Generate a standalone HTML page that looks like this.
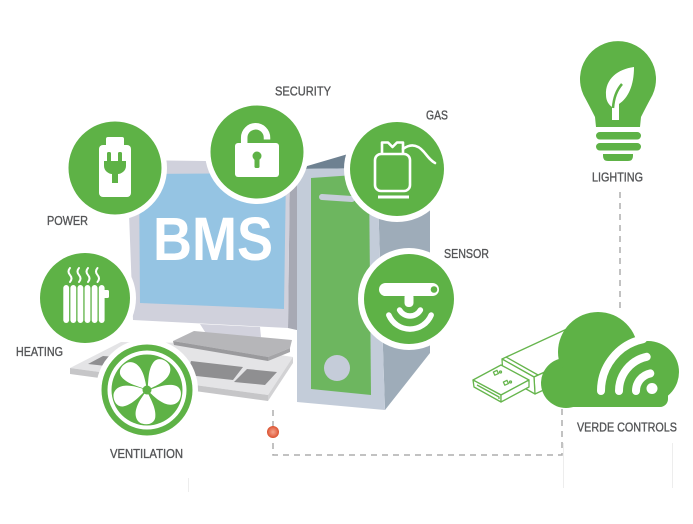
<!DOCTYPE html>
<html><head><meta charset="utf-8"><style>
html,body{margin:0;padding:0;background:#fff;}
svg{display:block;}
text{font-family:"Liberation Sans",sans-serif;}
</style></head><body>
<svg width="693" height="524" viewBox="0 0 693 524" xmlns="http://www.w3.org/2000/svg">
<defs>
<radialGradient id="rd" cx="50%" cy="50%" r="50%">
<stop offset="0" stop-color="#f4a58c"/><stop offset="0.6" stop-color="#e8755a"/><stop offset="1" stop-color="#d9522f"/>
</radialGradient>
</defs>

<!-- faint lines -->
<g stroke="#ededed" stroke-width="1">
<line x1="188.5" y1="478" x2="188.5" y2="492"/>
<line x1="563.5" y1="443" x2="563.5" y2="488"/>
<line x1="672.5" y1="443" x2="672.5" y2="488"/>
</g>

<!-- dashed connectors -->
<g stroke="#adadad" stroke-width="1.5" fill="none" stroke-dasharray="6 5">
<path d="M273 410 V455 H562 V408"/>
<path d="M620 192 V312"/>
</g>
<circle cx="273" cy="432" r="6" fill="url(#rd)"/>

<!-- keyboard -->
<polygon points="70,368 121,342 200,343 293,357 268,395" fill="#e4e4e6"/>
<polygon points="70,368 268,395 268,401 70,374" fill="#c6c6c8"/>
<polygon points="268,395 293,357 293,363 268,401" fill="#d2d2d4"/>
<polygon points="88,364 103,356 130,358 115,367" fill="#8f8f91"/>
<polygon points="191,361 243,367 233,380 187,375" fill="#8f8f91"/>
<polygon points="247,369 277,372 265,385 234,382" fill="#8f8f91"/>

<!-- monitor neck & stand -->
<polygon points="200,324 260,327 261,337 207,335" fill="#d2d2dd"/>
<polygon points="173,341 194,331 292,340 290,348 268,357" fill="#b6b6b9"/>
<polygon points="173,341 268,357 268,361 174,345" fill="#9a9a9d"/>
<polygon points="268,357 290,348 290,352 268,361" fill="#a5a5a8"/>

<!-- monitor -->
<polygon points="290,162 301,158 301,331 288,328" fill="#a7a9b4"/>
<polygon points="127,160 290,162 288,328 133,320" fill="#d0d1dc"/>
<polygon points="139,174 286,173 284,309 140,303" fill="#95c4e3"/>
<text x="153" y="260" font-size="61" font-weight="bold" fill="#fff" textLength="120" lengthAdjust="spacingAndGlyphs">BMS</text>

<!-- tower -->
<polygon points="297,169 348,154 430,140 377,168" fill="#6e8191"/>
<polygon points="377,168 430,140 430,353 385,410" fill="#9eacb9"/>
<polygon points="297,169 377,168 385,410 297,402" fill="#c3ccd9"/>
<polygon points="311,178 369,174 371,395 311,389" fill="#6db65f"/>
<line x1="322" y1="197" x2="352" y2="199" stroke="#c6cdd9" stroke-width="6" stroke-linecap="round"/>
<circle cx="337" cy="368" r="13" fill="#c5ccd9"/>

<!-- circles -->
<g>
<circle cx="115" cy="168" r="52" fill="#fff"/><circle cx="115" cy="168" r="46.5" fill="#5eb246"/>
<circle cx="257" cy="152" r="52" fill="#fff"/><circle cx="257" cy="152" r="46.5" fill="#5eb246"/>
<circle cx="397" cy="169" r="53" fill="#fff"/><circle cx="397" cy="169" r="47" fill="#5eb246"/>
<circle cx="409" cy="299" r="51" fill="#fff"/><circle cx="409" cy="299" r="45" fill="#5eb246"/>
<circle cx="85" cy="298" r="51" fill="#fff"/><circle cx="85" cy="298" r="45" fill="#5eb246"/>
<circle cx="147" cy="390" r="51" fill="#fff"/><circle cx="147" cy="390" r="45.5" fill="#5eb246"/>
<circle cx="147" cy="390" r="39.5" fill="#fff"/><circle cx="147" cy="390" r="35.5" fill="#5eb246"/>
</g>

<!-- power icon -->
<rect x="106" y="137" width="18" height="10" rx="2" fill="#fff"/>
<rect x="99" y="145" width="32" height="52" rx="4" fill="#fff"/>
<rect x="107" y="152" width="4" height="11" rx="1.5" fill="#5eb246"/>
<rect x="118" y="152" width="4" height="11" rx="1.5" fill="#5eb246"/>
<path d="M104,161 L126,161 L126,166 C126,171 121,174 118,174 L118,183 L112,183 L112,174 C109,174 104,171 104,166 Z" fill="#5eb246"/>

<!-- security icon -->
<path d="M244.2,147 L244.2,137.7 A11.4,11.4 0 0 1 267,137.7 L267,139.5" fill="none" stroke="#fff" stroke-width="6.5"/>
<rect x="235" y="143" width="44" height="34" rx="3" fill="#fff"/>
<circle cx="257" cy="156" r="4.5" fill="#5eb246"/>
<rect x="254.5" y="156" width="5" height="12" rx="1.2" fill="#5eb246"/>

<!-- gas icon -->
<g fill="none" stroke="#fff" stroke-width="2.6" stroke-linejoin="round">
<rect x="375" y="154" width="35" height="37" rx="6"/>
<path d="M382,154 V142.5 H388 L392.5,147 L397,142.5 H403 V154"/>
<path d="M403,149 C411,143 418,145 424,152 C428,157 431,161 435,163" stroke-linecap="round"/>
</g>
<rect x="378" y="195.5" width="31" height="3" fill="#fff"/>

<!-- sensor icon -->
<rect x="379" y="283" width="60" height="13" rx="6.5" fill="#fff"/>
<circle cx="434" cy="289.5" r="3.3" fill="#5eb246"/>
<rect x="404.5" y="293" width="9" height="14" rx="4" fill="#fff"/>
<path d="M399.6,310 A12,12 0 0 0 420.4,310" stroke="#fff" stroke-width="5.5" fill="none" stroke-linecap="round"/>
<path d="M388.8,315 A23,23 0 0 0 431.2,315" stroke="#fff" stroke-width="5.5" fill="none" stroke-linecap="round"/>

<!-- heating icon -->
<g fill="#fff">
<rect x="63.3" y="285" width="5.8" height="38" rx="2.9"/>
<rect x="70.4" y="285" width="5.8" height="38" rx="2.9"/>
<rect x="77.5" y="285" width="5.8" height="38" rx="2.9"/>
<rect x="84.6" y="285" width="5.8" height="38" rx="2.9"/>
<rect x="91.7" y="285" width="5.8" height="38" rx="2.9"/>
<rect x="98.8" y="285" width="5.8" height="38" rx="2.9"/>
<rect x="103" y="290" width="6" height="8" rx="1.5"/>
</g>
<g fill="none" stroke="#fff" stroke-width="2" stroke-linecap="round">
<path d="M70,268 q-3,3.5 0,7 t0,7"/>
<path d="M79,268 q-3,3.5 0,7 t0,7"/>
<path d="M88,268 q-3,3.5 0,7 t0,7"/>
<path d="M97.5,268 q-3,3.5 0,7 t0,7"/>
</g>

<!-- fan blades -->
<g fill="#fff" transform="translate(147,390)">
<path transform="rotate(-128)" d="M4,-2 C10,-6 18,-12 26,-12 C32,-12 35,-6 34,0 C33,6 27,9 20,8 C13,7 8,4 4,2 Z"/>
<path transform="rotate(-52)" d="M4,-2 C10,-6 18,-12 26,-12 C32,-12 35,-6 34,0 C33,6 27,9 20,8 C13,7 8,4 4,2 Z"/>
<path transform="rotate(16)" d="M4,-2 C10,-6 18,-12 26,-12 C32,-12 35,-6 34,0 C33,6 27,9 20,8 C13,7 8,4 4,2 Z"/>
<path transform="rotate(98)" d="M4,-2 C10,-6 18,-12 26,-12 C32,-12 35,-6 34,0 C33,6 27,9 20,8 C13,7 8,4 4,2 Z"/>
<path transform="rotate(170)" d="M4,-2 C10,-6 18,-12 26,-12 C32,-12 35,-6 34,0 C33,6 27,9 20,8 C13,7 8,4 4,2 Z"/>
<circle cx="0" cy="0" r="4.5" fill="#5eb246"/>
</g>

<!-- USB stick -->
<g fill="#fff" stroke="#66b54d" stroke-width="1.3" stroke-linejoin="round">
<polygon points="502,359 582,322 614,340 534,377"/>
<polygon points="534,377 614,340 615,357 535,394"/>
<polygon points="502,359 534,377 535,394 503,376"/>
<line x1="506" y1="357" x2="538" y2="375"/>
<polygon points="473,380 501,365 529,380 501,395"/>
<polygon points="473,380 501,395 501,402 474,387"/>
<polygon points="501,395 529,380 529,387 501,402"/>
<polyline points="477,385 499,397 499,399" fill="none"/>
<rect x="494" y="371" width="4" height="3.5" transform="rotate(-25 496 373)"/>
<circle cx="500.5" cy="372" r="1"/>
<rect x="504" y="381" width="4" height="3.5" transform="rotate(-25 506 383)"/>
<circle cx="510.5" cy="382" r="1"/>
</g>

<!-- cloud -->
<g fill="#5eb246">
<circle cx="598" cy="352" r="40"/>
<circle cx="566" cy="383" r="25"/>
<circle cx="648" cy="372" r="31"/>
<rect x="560" y="365" width="108" height="42" rx="8"/>
</g>
<g fill="none" stroke="#fff" stroke-width="8" stroke-linecap="round">
<path d="M601,391 A53,53 0 0 1 643,339.2"/>
<path d="M619,391 A35,35 0 0 1 646.7,356.8"/>
<path d="M636,391 A18,18 0 0 1 650.3,373.4"/>
</g>
<circle cx="652" cy="388.5" r="5.5" fill="#fff"/>

<!-- light bulb -->
<path d="M583.5,95 A38,38 0 1 1 652.5,95 Q646,107 641,117 L640,127 L596,127 L595,117 Q590,107 583.5,95 Z" fill="#5eb246"/>
<rect x="596" y="132" width="45" height="7.5" rx="3.75" fill="#5eb246"/>
<rect x="596" y="143" width="45" height="7.5" rx="3.75" fill="#5eb246"/>
<path d="M603,154 H633 V156 Q633,161 628,161 H608 Q603,161 603,156 Z" fill="#5eb246"/>
<path d="M634,67 C618,69 605,79 606,95 C606,101 609,105 612,107 L612,120 L619,120 L619,104 C628,98 634,86 634,67 Z" fill="#fff"/>
<path d="M622,84 Q614,93 613,108" fill="none" stroke="#5eb246" stroke-width="2.5"/>

<!-- labels -->
<g fill="#555658" stroke="#555658" stroke-width="0.35" font-size="13">
<text x="275" y="95.5" textLength="56" lengthAdjust="spacingAndGlyphs">SECURITY</text>
<text x="426" y="119.5" textLength="22" lengthAdjust="spacingAndGlyphs">GAS</text>
<text x="444" y="258" textLength="45" lengthAdjust="spacingAndGlyphs">SENSOR</text>
<text x="47" y="225" textLength="41" lengthAdjust="spacingAndGlyphs">POWER</text>
<text x="16" y="356" textLength="47" lengthAdjust="spacingAndGlyphs">HEATING</text>
<text x="110" y="458" textLength="73" lengthAdjust="spacingAndGlyphs">VENTILATION</text>
<text x="592" y="181.5" textLength="51" lengthAdjust="spacingAndGlyphs">LIGHTING</text>
<text x="577" y="431.5" textLength="100" lengthAdjust="spacingAndGlyphs">VERDE CONTROLS</text>
</g>
</svg>
</body></html>
